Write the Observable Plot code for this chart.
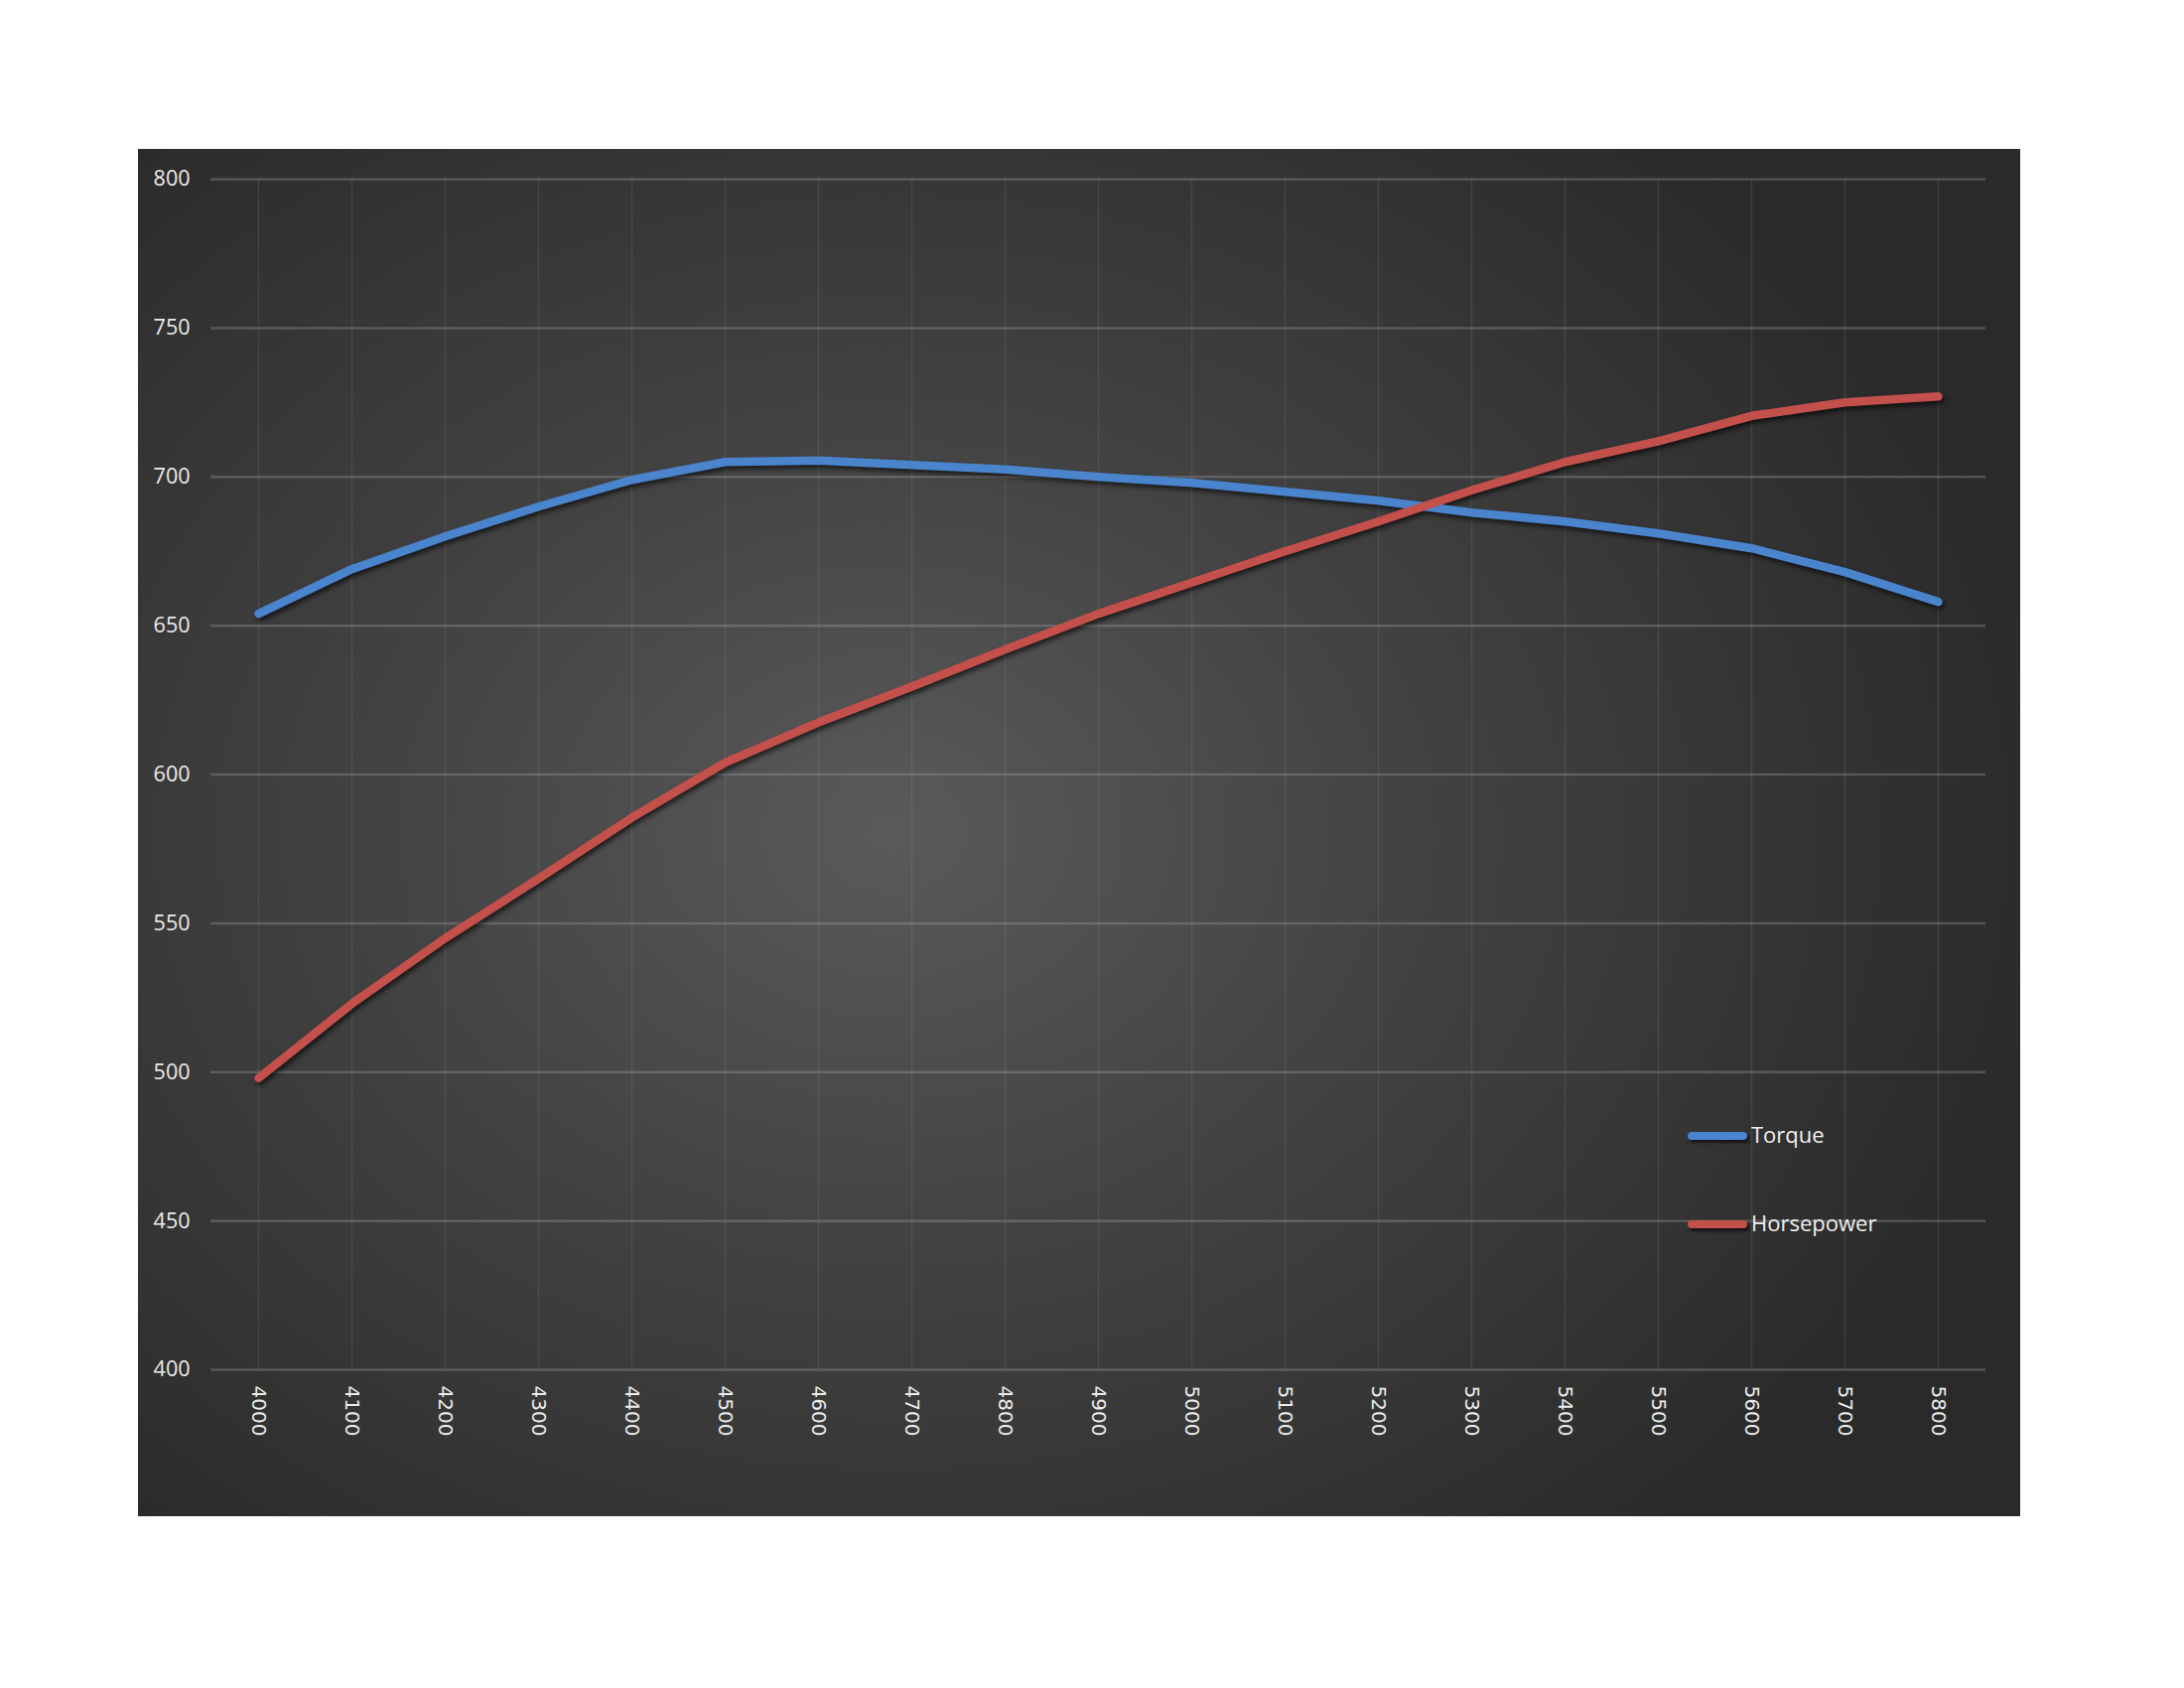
<!DOCTYPE html>
<html>
<head>
<meta charset="utf-8">
<script src="https://cdn.jsdelivr.net/npm/d3@7"></script>
<script src="https://cdn.jsdelivr.net/npm/@observablehq/plot@0.6"></script>
<style>
  html, body { margin: 0; padding: 0; background: #ffffff; width: 2200px; height: 1700px; }
  #panel {
    position: absolute; left: 139px; top: 150px; width: 1896px; height: 1377px;
    background: #2a2a2a;
    background-image: radial-gradient(ellipse 62% 68% at 40% 50%, #5a5a5a 0%, #424242 45%, #2a2a2a 100%);
    overflow: hidden;
  }
  #chart { position: absolute; left: 0; top: 0; }
  .leg { position: absolute; font-family: "Open Sans", sans-serif; font-size: 22px; color: #f0f0f0; }
  .leg .sw { position: absolute; left: 0; width: 60px; height: 8px; border-radius: 4px; box-shadow: 2px 3px 3px rgba(0,0,0,0.6); }
  .leg .tx { position: absolute; left: 64px; white-space: nowrap; line-height: 1; }
</style>
</head>
<body>
<div id="panel"><div id="chart"></div></div>
<div class="leg" id="leg"></div>
<script>
const rpm = [4000, 4100, 4200, 4300, 4400, 4500, 4600, 4700, 4800, 4900, 5000, 5100, 5200, 5300, 5400, 5500, 5600, 5700, 5800];
const torque = [654, 669, 680, 690, 699, 705, 705.5, 704, 702.5, 700, 698, 695, 692, 688, 685, 681, 676, 668, 658];
const horsepower = [498, 523, 545, 565, 585.5, 604, 617.5, 629.5, 642, 654, 664.5, 675, 685, 695.5, 705, 712, 720.5, 725, 727];
const yTicks = [400, 450, 500, 550, 600, 650, 700, 750, 800];
const seriesNames = ["Torque", "Horsepower"];
const seriesColors = ["#4a84cc", "#c4504c"];

const rows = [];
rpm.forEach((r, i) => {
  rows.push({rpm: r, value: torque[i], series: "Torque"});
});
rpm.forEach((r, i) => {
  rows.push({rpm: r, value: horsepower[i], series: "Horsepower"});
});

const plot = Plot.plot({
  width: 1896,
  height: 1377,
  marginLeft: 73,
  marginRight: 35,
  marginTop: 30,
  marginBottom: 148,
  style: {background: "transparent", color: "#e0e0e0", overflow: "visible"},
  x: {type: "point", domain: rpm, padding: 0.5, label: null},
  y: {domain: [400, 800], label: null},
  color: {domain: seriesNames, range: seriesColors},
  marks: [
    Plot.gridX(rpm, {stroke: "#a0a0a0", strokeOpacity: 0.16, strokeWidth: 1.5}),
    Plot.gridY(yTicks, {stroke: "#a8a8a8", strokeOpacity: 0.32, strokeWidth: 2.5}),
    Plot.axisY(yTicks, {tickSize: 0, tickPadding: 21, fontSize: 21.5, fontFamily: "Open Sans", fill: "#ececec", label: null}),
    Plot.axisX(rpm, {tickSize: 0, tickPadding: 16, tickRotate: 90, fontSize: 20, fontFamily: "DejaVu Sans", fill: "#ececec", label: null, tickFormat: d => String(d)}),
    Plot.line(rows, {x: "rpm", y: "value", z: "series", stroke: "series", strokeWidth: 8.5, strokeLinecap: "round", strokeLinejoin: "round"})
  ]
});
document.getElementById("chart").appendChild(plot);
plot.querySelectorAll('g[aria-label="line"]').forEach(g => {
  g.style.filter = "drop-shadow(2px 3px 2.5px rgba(0,0,0,0.65))";
});

// legend (page coordinates)
const leg = document.getElementById("leg");
leg.style.left = "1700px";
leg.style.top = "0px";
const legY = [1144, 1233];
seriesNames.forEach((name, i) => {
  const sw = document.createElement("div");
  sw.className = "sw";
  sw.style.background = seriesColors[i];
  sw.style.top = (legY[i] - 4) + "px";
  leg.appendChild(sw);
  const tx = document.createElement("div");
  tx.className = "tx";
  tx.textContent = name;
  tx.style.top = (legY[i] - 13) + "px";
  leg.appendChild(tx);
});
</script>
</body>
</html>
